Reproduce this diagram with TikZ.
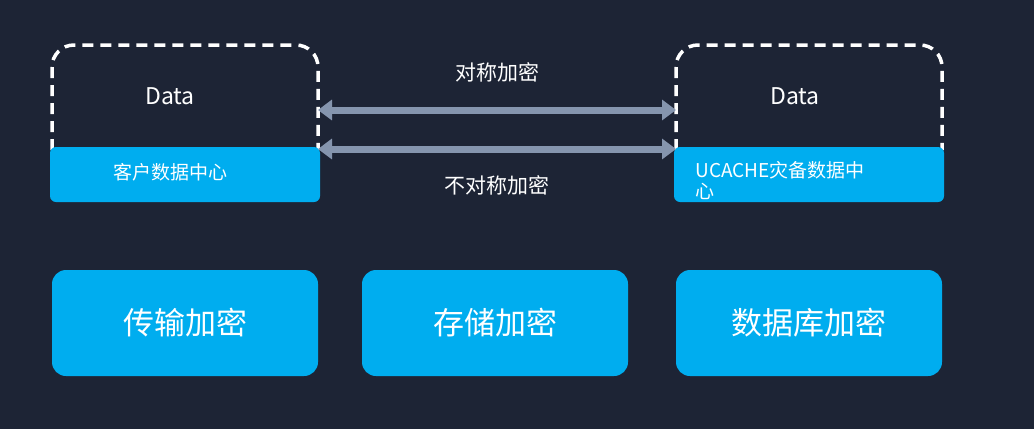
\documentclass[tikz,border=0pt]{standalone}
\usepackage{fontspec}
\setmainfont{Noto Sans CJK SC}
\usetikzlibrary{arrows.meta}
\definecolor{bg}{HTML}{1D2435}
\definecolor{blu}{HTML}{00ADEF}
\definecolor{arr}{HTML}{8595AE}
\begin{document}
\begin{tikzpicture}[x=1pt,y=-1pt,
  box/.style={fill=blu,rounded corners=14pt},
  dashbox/.style={draw=white,line width=3.5pt,dash pattern=on 11pt off 7pt,rounded corners=22pt},
  dbl/.style={draw=arr,line width=7pt,{Triangle[length=14pt,width=20pt]}-{Triangle[length=14pt,width=20pt]}},
  txt/.style={text=white,font=\fontsize{19}{22}\selectfont},
  big/.style={text=white,font=\fontsize{31}{36}\selectfont}]
\fill[bg] (0,0) rectangle (1034,429);
\useasboundingbox (0,0) rectangle (1034,429);
\draw[dashbox] (52,150) -- (52,45) -- (318,45) -- (318,150);
\draw[dashbox] (676,150) -- (676,45) -- (942,45) -- (942,150);
\fill[blu,rounded corners=6pt] (50,147) rectangle (320,202);
\fill[blu,rounded corners=6pt] (674,147) rectangle (944,202);
\node[txt,font=\fontsize{23}{26}\selectfont] (d1) at (170,96) {Data};
\node[txt,font=\fontsize{23}{26}\selectfont] (d2) at (795,96) {Data};
\node[txt,anchor=west] (c1) at (110,172) {客户数据中心};
\node[txt,anchor=north west,align=left,font=\fontsize{19}{21}\selectfont] (c2) at (692,158) {UCACHE灾备数据中\\心};
\coordinate (l1) at (318,110); \coordinate (r1) at (676,110);
\coordinate (l2) at (318,149); \coordinate (r2) at (676,149);
\draw[dbl] (l1) -- (r1);
\draw[dbl] (l2) -- (r2);
\node[txt,font=\fontsize{21}{24}\selectfont] (s) at (497,72) {对称加密};
\node[txt,font=\fontsize{21}{24}\selectfont] (a) at (497,185) {不对称加密};
\node[box,minimum width=266pt,minimum height=106pt,big] (b1) at (185,323) {传输加密};
\node[box,minimum width=266pt,minimum height=106pt,big] (b2) at (495,323) {存储加密};
\node[box,minimum width=266pt,minimum height=106pt,big] (b3) at (809,323) {数据库加密};
\end{tikzpicture}
\end{document}
